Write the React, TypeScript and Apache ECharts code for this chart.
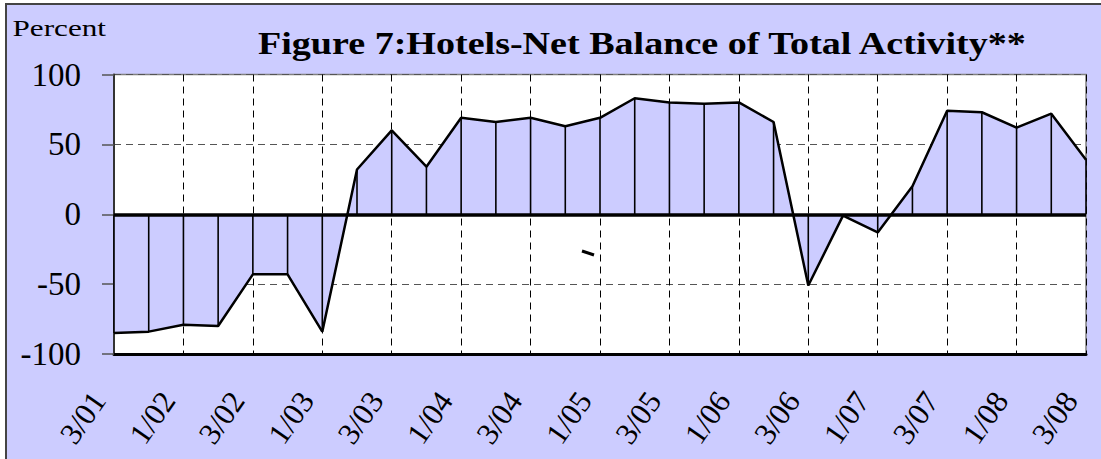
import React, { useEffect, useRef } from "react";
import * as echarts from "echarts";

const categories = [
  "3/01", "4/01", "1/02", "2/02", "3/02", "4/02", "1/03", "2/03", "3/03", "4/03",
  "1/04", "2/04", "3/04", "4/04", "1/05", "2/05", "3/05", "4/05", "1/06", "2/06",
  "3/06", "4/06", "1/07", "2/07", "3/07", "4/07", "1/08", "2/08", "3/08",
];
const netBalance = [
  -85, -84, -79, -80, -43, -43, -84, 32, 60, 34,
  69, 66, 69, 63, 69, 83, 80, 79, 80, 66,
  -51, -1, -13, 20, 74, 73, 62, 72, 39,
];
const yTicks = { min: -100, max: 100, interval: 50 };
const titleText = "Figure 7:Hotels-Net Balance of Total Activity**";
const unitText = "Percent";

const SERIF = "Liberation Serif";
const LAVENDER = "#CCCCFF";

export default function App() {
  const ref = useRef<HTMLDivElement>(null);
  useEffect(() => {
    if (!ref.current) return;
    const chart = echarts.init(ref.current, null, { renderer: "svg" });
    chart.setOption({
      animation: false,
      backgroundColor: "#ffffff",
      graphic: [
        {
          type: "rect",
          z: -100,
          shape: { x: 6, y: 4, width: 1200, height: 600 },
          style: { fill: LAVENDER, stroke: "#444444", lineWidth: 2 },
          silent: true,
        },
        {
          type: "text",
          x: 258,
          y: 43.5,
          scaleX: 1.19,
          z: 10,
          style: {
            text: titleText,
            fontFamily: SERIF,
            fontWeight: "bold",
            fontSize: 32,
            fill: "#000",
            verticalAlign: "middle",
            align: "left",
          },
        },
        {
          type: "text",
          x: 12.5,
          y: 28,
          scaleX: 1.3,
          z: 10,
          style: {
            text: unitText,
            fontFamily: SERIF,
            fontSize: 24,
            fill: "#000",
            verticalAlign: "middle",
            align: "left",
          },
        },
        {
          type: "line",
          z: 10,
          shape: { x1: 582, y1: 251, x2: 594, y2: 255 },
          style: { stroke: "#000", lineWidth: 3 },
        },
      ],
      grid: {
        left: 114,
        right: 15,
        top: 74.5,
        bottom: 105,
        show: true,
        backgroundColor: "#ffffff",
        borderColor: "#808080",
        borderWidth: 1.5,
        containLabel: false,
      },
      xAxis: {
        type: "category",
        data: categories,
        boundaryGap: false,
        axisLine: { show: true, onZero: false, lineStyle: { color: "#000", width: 3 } },
        axisTick: { show: false },
        axisLabel: {
          interval: 1,
          rotate: 55,
          margin: 19,
          padding: [0, 27, 0, 0],
          fontFamily: SERIF,
          fontSize: 31,
          color: "#000",
          hideOverlap: false,
        },
        splitLine: {
          show: true,
          interval: 1,
          lineStyle: { color: "#000", width: 1, type: [7, 5] },
        },
      },
      yAxis: {
        type: "value",
        min: yTicks.min,
        max: yTicks.max,
        interval: yTicks.interval,
        axisLine: { show: true, lineStyle: { color: "#333", width: 2 } },
        axisTick: { show: true, length: 12, lineStyle: { color: "#555", width: 1.5 } },
        axisLabel: {
          margin: 33,
          fontFamily: SERIF,
          fontSize: 33,
          color: "#000",
        },
        splitLine: {
          show: true,
          lineStyle: { color: "#555", width: 1, type: [7, 5] },
        },
      },
      series: [
        {
          type: "line",
          data: netBalance,
          symbol: "none",
          z: 2,
          lineStyle: { color: "#000", width: 2.5 },
          areaStyle: { color: LAVENDER, opacity: 1, origin: "auto" },
        },
        {
          type: "bar",
          data: netBalance,
          barWidth: 1.6,
          z: 3,
          itemStyle: { color: "#000" },
          markLine: {
            silent: true,
            symbol: "none",
            label: { show: false },
            lineStyle: { color: "#000", width: 3.5, type: "solid" },
            data: [{ yAxis: 0 }],
          },
        },
      ],
    });
    return () => chart.dispose();
  }, []);
  return (
    <div
      ref={ref}
      style={{ position: "fixed", left: 0, top: 0, width: 1101, height: 459 }}
    />
  );
}
